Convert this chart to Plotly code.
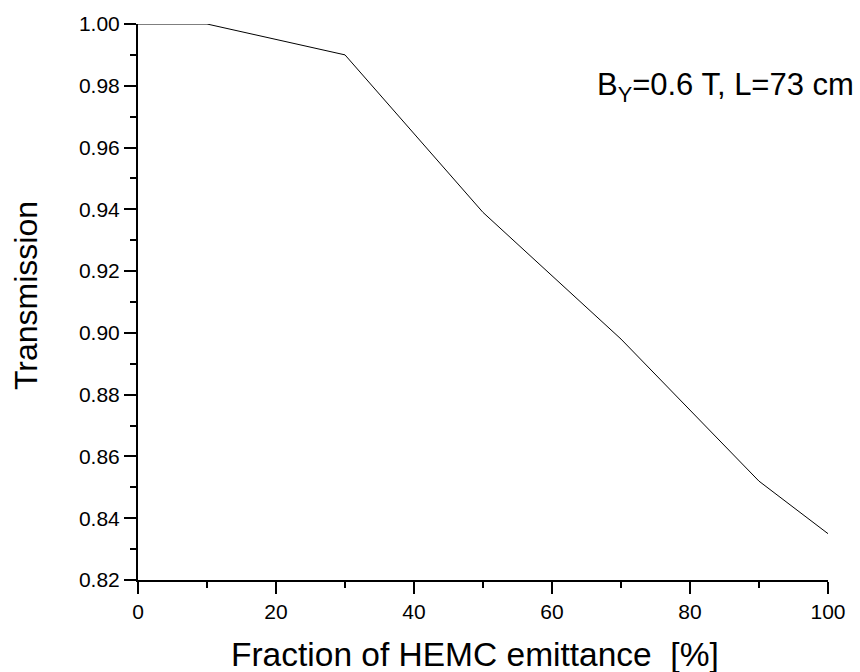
import plotly.graph_objects as go

fraction = [0, 10, 30, 50, 70, 90, 100]
transmission = [1.000, 1.000, 0.990, 0.939, 0.898, 0.852, 0.835]

x_ticks = [0, 20, 40, 60, 80, 100]
y_ticks = [0.82, 0.84, 0.86, 0.88, 0.90, 0.92, 0.94, 0.96, 0.98, 1.00]

FONT = "Liberation Sans"

fig = go.Figure()
fig.add_trace(go.Scatter(x=fraction, y=transmission, mode="lines",
                         line=dict(color="black", width=1), showlegend=False))

fig.update_layout(
    width=860, height=672,
    margin=dict(l=138, r=32, t=20, b=92),
    plot_bgcolor="white", paper_bgcolor="white",
    font=dict(family=FONT, color="black", size=21),
    annotations=[
        dict(text="B<sub>Y</sub>=0.6 T, L=73 cm", xref="paper", yref="paper",
             x=0.663, y=0.887, xanchor="left", yanchor="middle",
             showarrow=False, font=dict(size=31, family=FONT, color="black")),
        dict(text="Fraction of HEMC emittance  [%]", xref="paper", yref="paper",
             x=0.489, y=-0.134, xanchor="center", yanchor="middle",
             showarrow=False, font=dict(size=33.5, family=FONT, color="black")),
        dict(text="Transmission", xref="paper", yref="paper", textangle=-90,
             x=-0.162, y=0.511, xanchor="center", yanchor="middle",
             showarrow=False, font=dict(size=32, family=FONT, color="black")),
    ],
)
fig.update_xaxes(range=[0, 100], tickvals=x_ticks, ticktext=[str(v) for v in x_ticks],
                 showgrid=False, zeroline=False, showline=True, linecolor="black", linewidth=2,
                 ticks="outside", ticklen=12, tickwidth=2, tickcolor="black",
                 minor=dict(dtick=10, tick0=0, ticks="outside", ticklen=6, tickwidth=2,
                            tickcolor="black", showgrid=False),
                 tickfont=dict(size=21, family=FONT, color="black"))
fig.update_yaxes(range=[0.82, 1.00], tickvals=y_ticks, ticktext=[f"{v:.2f}" for v in y_ticks],
                 showgrid=False, zeroline=False, showline=True, linecolor="black", linewidth=2,
                 ticks="outside", ticklen=12, tickwidth=2, tickcolor="black",
                 minor=dict(dtick=0.01, tick0=0.82, ticks="outside", ticklen=6, tickwidth=2,
                            tickcolor="black", showgrid=False),
                 tickfont=dict(size=21, family=FONT, color="black"))

fig.write_html("out.html")
